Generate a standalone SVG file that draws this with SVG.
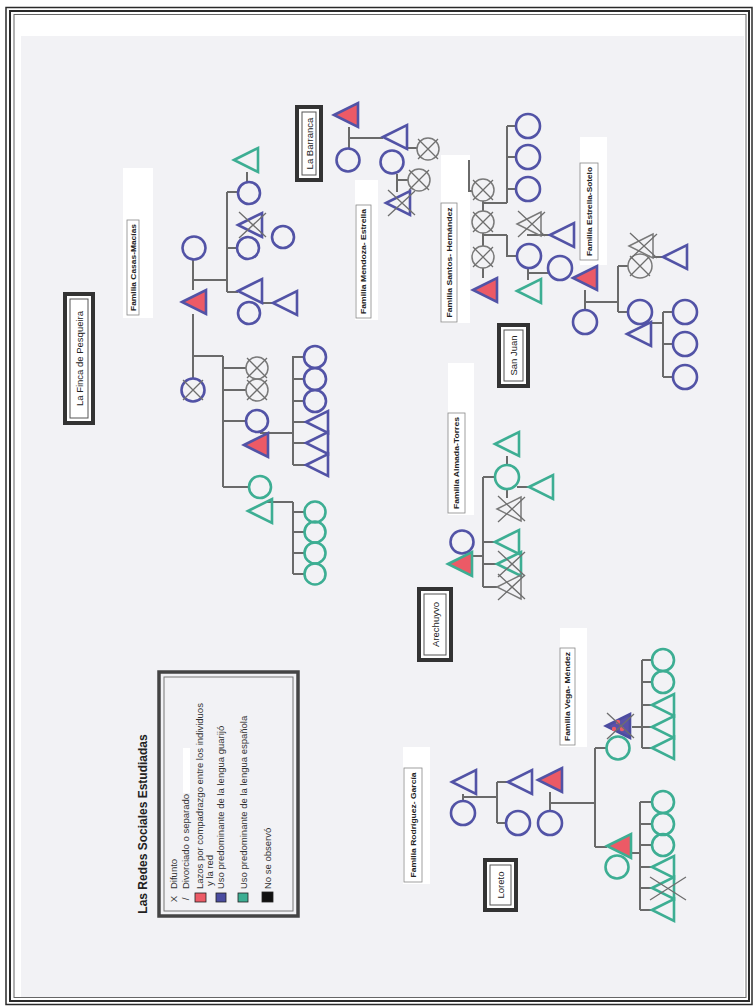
<svg xmlns="http://www.w3.org/2000/svg" width="753" height="1006" viewBox="0 0 753 1006">
<style>
.nv{fill:none;stroke:#5253a6;stroke-width:2.6}
.tl{fill:none;stroke:#3dae93;stroke-width:2.6}
.gy{fill:none;stroke:#7a7a7a;stroke-width:1.5}
.rn{fill:#ec5a66;stroke:#5253a6;stroke-width:2.6}
.rt{fill:#ec5a66;stroke:#3dae93;stroke-width:2.6}
.xm{fill:none;stroke:#6e6e6e;stroke-width:1.3}
#connectors path{fill:none;stroke:#6a6a6a;stroke-width:2}
.pbo{fill:#fff;stroke:#333;stroke-width:4}
.pbi{fill:none;stroke:#555;stroke-width:1}
.pl{font-family:"Liberation Sans",Arial,sans-serif;font-size:9.5px;fill:#222}
.fb{fill:#fff;stroke:#888;stroke-width:0.8}
.wp{fill:#fff}
.fl{font-family:"Liberation Sans",Arial,sans-serif;font-size:7.5px;font-weight:bold;fill:#222}
.lg{font-family:"Liberation Sans",Arial,sans-serif;font-size:9.5px;fill:#333}
.lt{font-family:"Liberation Sans",Arial,sans-serif;font-size:12px;font-weight:bold;fill:#222}
</style>
<defs>
<path id="tri" d="M-12,0L12,-12L12,12Z"/>
<path id="trs" d="M-11,0L11,-11L11,11Z"/>
<path id="xx" d="M-10,-10L10,10M-10,10L10,-10"/>
<path id="xt" d="M-13,-13L14,12M-13,13L14,-12"/>
</defs>
<rect width="753" height="1006" fill="#fff"/>
<rect x="21" y="36" width="723" height="961" fill="#f2f2f5"/>
<g id="frame" fill="none">
<rect x="6" y="7.5" width="746" height="997" stroke="#2a2a2a" stroke-width="1.5"/>
<rect x="10" y="11" width="739" height="990" stroke="#2a2a2a" stroke-width="2"/>
<rect x="14" y="14.5" width="732" height="983" stroke="#666" stroke-width="1"/>
</g>

<g id="patches">
<rect class="wp" x="123" y="168" width="30" height="150"/>
<rect class="wp" x="355" y="180" width="23" height="140"/>
<rect class="wp" x="441" y="155" width="29" height="168"/>
<rect class="wp" x="580" y="137" width="27" height="128"/>
<rect class="wp" x="448" y="363" width="26" height="152"/>
<rect class="wp" x="403" y="747" width="27" height="137"/>
<rect class="wp" x="560" y="628" width="27" height="119"/>
<rect class="wp" x="183" y="748" width="7" height="45"/>
</g>

<g id="place-finca"><rect class="pbo" x="65" y="294" width="28" height="129"/><rect class="pbi" x="70" y="299" width="18" height="119"/><text class="pl" transform="translate(79,358.5) rotate(-90)" text-anchor="middle" dominant-baseline="central">La Finca de Pesqueira</text></g>
<g id="place-barranca"><rect class="pbo" x="297" y="107" width="24" height="73"/><rect class="pbi" x="302" y="112" width="14" height="63"/><text class="pl" transform="translate(309,143.5) rotate(-90)" text-anchor="middle" dominant-baseline="central">La Barranca</text></g>
<g id="place-sanjuan"><rect class="pbo" x="499" y="325" width="29" height="61"/><rect class="pbi" x="504" y="330" width="19" height="51"/><text class="pl" transform="translate(513.5,355.5) rotate(-90)" text-anchor="middle" dominant-baseline="central">San Juan</text></g>
<g id="place-arechuyvo"><rect class="pbo" x="419" y="589" width="32" height="71"/><rect class="pbi" x="424" y="594" width="22" height="61"/><text class="pl" transform="translate(435,624.5) rotate(-90)" text-anchor="middle" dominant-baseline="central">Arechuyvo</text></g>
<g id="place-loreto"><rect class="pbo" x="485" y="860" width="31" height="50"/><rect class="pbi" x="490" y="865" width="21" height="40"/><text class="pl" transform="translate(500.5,885) rotate(-90)" text-anchor="middle" dominant-baseline="central">Loreto</text></g>

<g id="label-casas"><rect class="fb" x="127" y="220" width="12" height="95"/><text class="fl" transform="translate(133,267.5) rotate(-90)" text-anchor="middle" dominant-baseline="central" textLength="87" lengthAdjust="spacingAndGlyphs">Familia Casas-Macías</text></g>
<g id="label-mendoza"><rect class="fb" x="356" y="205" width="15" height="113"/><text class="fl" transform="translate(363.5,261.5) rotate(-90)" text-anchor="middle" dominant-baseline="central" textLength="105" lengthAdjust="spacingAndGlyphs">Familia Mendoza- Estrella</text></g>
<g id="label-santos"><rect class="fb" x="441" y="203" width="16" height="119"/><text class="fl" transform="translate(449,262.5) rotate(-90)" text-anchor="middle" dominant-baseline="central" textLength="110" lengthAdjust="spacingAndGlyphs">Familia Santos- Hernández</text></g>
<g id="label-estrella"><rect class="fb" x="580" y="163" width="18" height="97"/><text class="fl" transform="translate(589,211.5) rotate(-90)" text-anchor="middle" dominant-baseline="central" textLength="89" lengthAdjust="spacingAndGlyphs">Familia Estrella-Sotelo</text></g>
<g id="label-almada"><rect class="fb" x="448" y="413" width="17" height="100"/><text class="fl" transform="translate(456.5,463) rotate(-90)" text-anchor="middle" dominant-baseline="central" textLength="92" lengthAdjust="spacingAndGlyphs">Familia Almada-Torres</text></g>
<g id="label-rodriguez"><rect class="fb" x="404" y="768" width="18" height="114"/><text class="fl" transform="translate(413,825) rotate(-90)" text-anchor="middle" dominant-baseline="central" textLength="105" lengthAdjust="spacingAndGlyphs">Familia Rodríguez- García</text></g>
<g id="label-vega"><rect class="fb" x="560" y="648" width="15" height="97"/><text class="fl" transform="translate(567.5,696.5) rotate(-90)" text-anchor="middle" dominant-baseline="central" textLength="89" lengthAdjust="spacingAndGlyphs">Familia Vega- Méndez</text></g>

<g id="connectors">
<path d="M193,260V290M193,314V378M193,280H227M227,192V292M227,192H237M247,172V182M227,248H236M227,292H238M261,303H273M193,356H223M223,356V487M223,368H246M223,390H246M223,421H246M223,487H249M260,433H293M293,356V465M293,357H304M293,379H304M293,401H304M293,422H306M293,443H306M293,465H306M265,502H293M293,502V574M293,512H305M293,532H305M293,553H305M293,574H305"/>
<path d="M349,127V148M349,138H383M407,148H417M397,174V192M397,180H408"/>
<path d="M469,160V191H472M483,201V211M483,233V246M483,268V278M483,203H507M507,126V203M507,126H516M507,157H516M507,189H516M483,235H507M507,235V256H517M527,235H550M528,268V280M528,273H548"/>
<path d="M585,290V310M585,302H618M618,266V312M618,266H628M653,257H663M618,312H628M650,323H663M663,312V377M663,312H673M663,344H673M663,377H673"/>
<path d="M470,556H483M483,477V587M483,477H495M507,456V465M517,487H530M507,489V498M483,542H495M483,564H497M483,587H497"/>
<path d="M463,794V801M463,797H497M497,782V823M497,782H508M497,823H506M550,792V811M550,803H595M595,748V847M595,748H606M632,727H642M642,660V748M642,660H652M642,682H652M642,705H652M642,727H652M642,748H652M595,847H607M630,853H640M640,802V910M640,802H652M640,824H652M640,845H652M640,867H652M640,888H652M640,910H652"/>
</g>

<g id="cm1"><circle class="nv" cx="194" cy="248" r="11.5"/></g>
<g id="cm2"><use href="#tri" x="194" y="302" class="rn"/></g>
<g id="cm3"><circle class="nv" cx="249" cy="193" r="11"/></g>
<g id="cm4"><use href="#tri" x="246" y="160" class="tl"/></g>
<g id="cm5"><use href="#tri" x="250" y="225" class="nv"/><use href="#xt" x="252" y="225" class="xm"/></g>
<g id="cm6"><circle class="nv" cx="283" cy="237" r="11"/></g>
<g id="cm7"><circle class="nv" cx="248" cy="248" r="11"/></g>
<g id="cm8"><use href="#tri" x="250" y="291" class="nv"/></g>
<g id="cm9"><circle class="nv" cx="249" cy="313" r="11"/></g>
<g id="cm10"><use href="#tri" x="285" y="303" class="nv"/></g>
<g id="cm11"><circle class="nv" cx="193" cy="390" r="11.5"/><use href="#xx" x="193" y="390" class="xm"/></g>
<g id="cm12"><circle class="gy" cx="257" cy="368" r="11"/><use href="#xx" x="257" y="368" class="xm"/></g>
<g id="cm13"><circle class="gy" cx="257" cy="390" r="11"/><use href="#xx" x="257" y="390" class="xm"/></g>
<g id="cm14"><circle class="nv" cx="257" cy="421" r="11"/></g>
<g id="cm15"><use href="#tri" x="256" y="445" class="rn"/></g>
<g id="cm16"><circle class="nv" cx="315" cy="357" r="11"/></g>
<g id="cm17"><circle class="nv" cx="315" cy="379" r="11"/></g>
<g id="cm18"><circle class="nv" cx="315" cy="401" r="11"/></g>
<g id="cm19"><use href="#trs" x="317" y="422" class="nv"/></g>
<g id="cm20"><use href="#trs" x="317" y="443" class="nv"/></g>
<g id="cm21"><use href="#trs" x="317" y="465" class="nv"/></g>
<g id="cm22"><circle class="tl" cx="260" cy="487" r="11"/></g>
<g id="cm23"><use href="#tri" x="260" y="511" class="tl"/></g>
<g id="cm24"><circle class="tl" cx="315" cy="512" r="10.5"/></g>
<g id="cm25"><circle class="tl" cx="315" cy="532" r="10.5"/></g>
<g id="cm26"><circle class="tl" cx="315" cy="553" r="10.5"/></g>
<g id="cm27"><circle class="tl" cx="315" cy="574" r="10.5"/></g>

<g id="lb1"><use href="#tri" x="346" y="115" class="rn"/></g>
<g id="lb2"><circle class="nv" cx="348" cy="160" r="11.5"/></g>
<g id="lb3"><use href="#tri" x="395" y="137" class="nv"/></g>
<g id="lb4"><circle class="nv" cx="392" cy="162" r="11.5"/></g>
<g id="lb5"><circle class="gy" cx="428" cy="149" r="11"/><use href="#xx" x="428" y="149" class="xm"/></g>
<g id="lb6"><circle class="gy" cx="419" cy="180" r="11"/><use href="#xx" x="419" y="180" class="xm"/></g>
<g id="lb7"><use href="#tri" x="398" y="203" class="nv"/><use href="#xt" x="401" y="203" class="xm"/></g>

<g id="sh1"><circle class="gy" cx="483" cy="190" r="11"/><use href="#xx" x="483" y="190" class="xm"/></g>
<g id="sh2"><circle class="gy" cx="483" cy="222" r="11"/><use href="#xx" x="483" y="222" class="xm"/></g>
<g id="sh3"><circle class="gy" cx="483" cy="257" r="11"/><use href="#xx" x="483" y="257" class="xm"/></g>
<g id="sh4"><use href="#tri" x="485" y="290" class="rn"/></g>
<g id="sh5"><circle class="nv" cx="528" cy="126" r="12"/></g>
<g id="sh6"><circle class="nv" cx="528" cy="157" r="12"/></g>
<g id="sh7"><circle class="nv" cx="528" cy="189" r="12"/></g>
<g id="sh8"><circle class="nv" cx="529" cy="256" r="12"/></g>
<g id="sh9"><use href="#tri" x="529" y="224" class="gy"/><use href="#xt" x="531" y="224" class="xm"/></g>
<g id="sh10"><use href="#tri" x="562" y="235" class="nv"/></g>
<g id="sh11"><circle class="nv" cx="560" cy="268" r="12"/></g>
<g id="sh12"><use href="#tri" x="529" y="291" class="tl"/></g>

<g id="es1"><use href="#tri" x="585" y="278" class="rn"/></g>
<g id="es2"><circle class="nv" cx="585" cy="322" r="12"/></g>
<g id="es3"><circle class="gy" cx="640" cy="266" r="12"/><use href="#xx" x="640" y="266" class="xm"/></g>
<g id="es4"><use href="#tri" x="641" y="246" class="gy"/><use href="#xt" x="643" y="246" class="xm"/></g>
<g id="es5"><use href="#tri" x="675" y="257" class="nv"/></g>
<g id="es6"><circle class="nv" cx="640" cy="312" r="12"/></g>
<g id="es7"><use href="#tri" x="639" y="334" class="nv"/></g>
<g id="es8"><circle class="nv" cx="685" cy="312" r="12"/></g>
<g id="es9"><circle class="nv" cx="685" cy="344" r="12"/></g>
<g id="es10"><circle class="nv" cx="685" cy="377" r="12"/></g>

<g id="at1"><circle class="nv" cx="462" cy="542" r="11.5"/></g>
<g id="at2"><use href="#tri" x="460" y="564" class="rt"/></g>
<g id="at3"><circle class="tl" cx="507" cy="477" r="12"/></g>
<g id="at4"><use href="#tri" x="507" y="444" class="tl"/></g>
<g id="at5"><use href="#tri" x="541" y="487" class="tl"/></g>
<g id="at6"><use href="#tri" x="509" y="509" class="gy"/><use href="#xt" x="511" y="509" class="xm"/></g>
<g id="at7"><use href="#tri" x="507" y="542" class="tl"/></g>
<g id="at8"><use href="#tri" x="509" y="564" class="tl"/><use href="#xt" x="511" y="564" class="xm"/></g>
<g id="at9"><use href="#tri" x="509" y="587" class="gy"/><use href="#xt" x="511" y="587" class="xm"/></g>

<g id="lo1"><use href="#tri" x="464" y="782" class="nv"/></g>
<g id="lo2"><circle class="nv" cx="463" cy="813" r="12"/></g>
<g id="lo3"><use href="#tri" x="520" y="782" class="nv"/></g>
<g id="lo4"><circle class="nv" cx="518" cy="823" r="12"/></g>
<g id="lo5"><use href="#tri" x="550" y="780" class="rn"/></g>
<g id="lo6"><circle class="nv" cx="550" cy="823" r="12"/></g>
<g id="lo7"><use href="#tri" x="618" y="726" fill="#5a52a8" stroke="#4c4ca0" stroke-width="2.6"/><circle cx="618" cy="722" r="2.2" fill="#ec5a66"/><circle cx="622" cy="729" r="2.2" fill="#ec5a66"/><circle cx="614" cy="729" r="2.2" fill="#ec5a66"/><use href="#xt" x="620" y="726" class="xm"/></g>
<g id="lo8"><circle class="tl" cx="618" cy="748" r="11.5"/></g>
<g id="lo9"><circle class="tl" cx="663" cy="660" r="11"/></g>
<g id="lo10"><circle class="tl" cx="663" cy="682" r="11"/></g>
<g id="lo11"><use href="#trs" x="663" y="705" class="tl"/></g>
<g id="lo12"><use href="#trs" x="663" y="727" class="tl"/></g>
<g id="lo13"><use href="#trs" x="663" y="748" class="tl"/></g>
<g id="lo14"><use href="#tri" x="619" y="846" class="rt"/></g>
<g id="lo15"><circle class="tl" cx="617" cy="867" r="11.5"/></g>
<g id="lo16"><circle class="tl" cx="663" cy="802" r="11"/></g>
<g id="lo17"><circle class="tl" cx="663" cy="824" r="11"/></g>
<g id="lo18"><circle class="tl" cx="663" cy="845" r="11"/></g>
<g id="lo19"><use href="#trs" x="663" y="867" class="tl"/></g>
<g id="lo20"><use href="#trs" x="663" y="888" class="tl"/><path class="xm" d="M650,877L686,900M650,900L686,877"/></g>
<g id="lo21"><use href="#trs" x="663" y="910" class="tl"/></g>

<g id="legend">
<text class="lt" transform="translate(143,824) rotate(-90)" text-anchor="middle" dominant-baseline="central">Las Redes Sociales Estudiadas</text>
<rect x="159" y="672" width="139" height="244" fill="none" stroke="#444" stroke-width="3.5"/>
<rect x="164" y="677" width="129" height="234" fill="none" stroke="#777" stroke-width="1"/>
<text class="lg" transform="translate(173,899) rotate(-90)" text-anchor="middle" dominant-baseline="central">X</text>
<text class="lg" transform="translate(173,889) rotate(-90)" dominant-baseline="central">Difunto</text>
<text class="lg" transform="translate(185,899) rotate(-90)" text-anchor="middle" dominant-baseline="central">/</text>
<text class="lg" transform="translate(185,889) rotate(-90)" dominant-baseline="central">Divorciado o separado</text>
<rect x="195" y="893" width="11" height="9" fill="#ec5a66" stroke="#222" stroke-width="0.8"/>
<text class="lg" transform="translate(199.5,889) rotate(-90)" dominant-baseline="central">Lazos por compadrazgo entre los individuos</text>
<text class="lg" transform="translate(209,886) rotate(-90)" dominant-baseline="central">y la red</text>
<rect x="216" y="893" width="10" height="9" fill="#4a4ca0" stroke="#222" stroke-width="0.8"/>
<text class="lg" transform="translate(220.5,889) rotate(-90)" dominant-baseline="central">Uso predominante de la lengua guarijó</text>
<rect x="238" y="893" width="10" height="9" fill="#3dae93" stroke="#222" stroke-width="0.8"/>
<text class="lg" transform="translate(243,889) rotate(-90)" dominant-baseline="central">Uso predominante de la lengua española</text>
<rect x="262" y="892" width="11" height="10" fill="#111" stroke="#222" stroke-width="0.8"/>
<text class="lg" transform="translate(267,889) rotate(-90)" dominant-baseline="central">No se observó</text>
</g>
</svg>
